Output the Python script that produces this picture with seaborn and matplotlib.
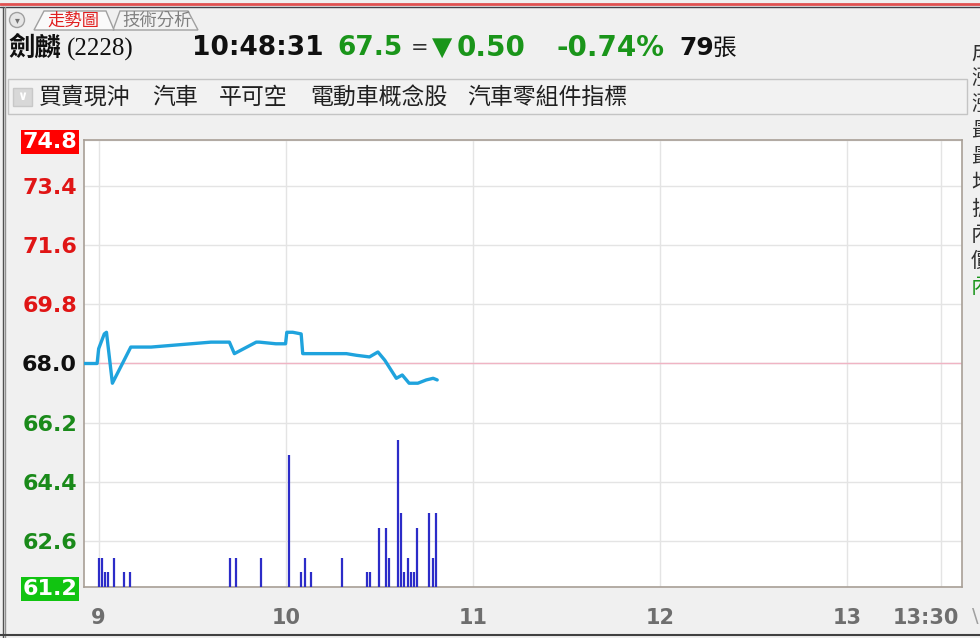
import numpy as np
import pandas as pd
import matplotlib
matplotlib.use('Agg')
import matplotlib.pyplot as plt
import matplotlib.transforms as mtransforms
import seaborn as sns
from matplotlib.patches import Rectangle, Polygon, Circle

# price line (minutes after 09:00)
price_time = [-5, -0.5, 0, 1.8, 2.5, 4.4, 10.3, 16.8, 23.2, 29.6, 36, 41.9, 43.5, 50.5,
              51.5, 56.8, 59.9, 60.3, 62.2, 64.9, 65.4, 72.4, 79.4, 82.6, 86.8, 89.5,
              91.7, 95.4, 97.3, 99.5, 102.3, 105, 107.2, 108.5]
price = [68.0, 68.0, 68.45, 68.9, 68.95, 67.4, 68.5, 68.5, 68.55, 68.6, 68.65, 68.65, 68.3,
         68.65, 68.65, 68.6, 68.6, 68.95, 68.95, 68.9, 68.3, 68.3, 68.3, 68.25, 68.2, 68.35,
         68.1, 67.55, 67.65, 67.4, 67.4, 67.5, 67.55, 67.5]

# volume (lots)
vol_time = [0, 1, 2, 3, 5, 8, 10, 42, 44, 52, 61, 65, 66, 68, 78, 86, 87, 90, 92, 93,
            96, 97, 98, 99, 100, 101, 102, 106, 107, 108]
vol_lots = [2, 2, 1, 1, 2, 1, 1, 2, 2, 2, 9, 1, 2, 1, 2, 1, 1, 4, 4, 2,
            10, 5, 1, 2, 1, 1, 4, 5, 2, 5]

y_ticks = [61.2, 62.6, 64.4, 66.2, 68.0, 69.8, 71.6, 73.4, 74.8]
y_labels = ['61.2', '62.6', '64.4', '66.2', '68.0', '69.8', '71.6', '73.4', '74.8']
x_ticks = [0, 60, 120, 180, 240, 270]
x_labels = ['9', '10', '11', '12', '13', '13:30']

tag_items = ['買賣現沖', '汽車', '平可空', '電動車概念股', '汽車零組件指標']
side_items = ['成', '漲', '漲', '最', '最', '均', '振', '內', '價', '內']

sns.set_style('white')
plt.rcParams['font.family'] = ['DejaVu Sans', 'Noto Sans CJK TC']
CJK = ['Noto Sans CJK TC', 'DejaVu Sans']

W, H = 980, 638
fig = plt.figure(figsize=(9.8, 6.38), dpi=100, facecolor='#f0f0f0')

# background layer in pixel coordinates
bg = fig.add_axes([0, 0, 1, 1])
bg.set_xlim(0, W)
bg.set_ylim(H, 0)
bg.axis('off')

bg.plot([0, W], [3.5, 3.5], color='#e05050', lw=2)
bg.plot([0, W], [7, 7], color='#404048', lw=1)
bg.plot([2.5, 2.5], [7, H], color='#505050', lw=1)
bg.plot([5, 5], [7, H], color='#909090', lw=1)
bg.plot([0, W], [635, 635], color='#404040', lw=1.5)

# tabs
bg.add_patch(Circle((17, 20), 7.5, facecolor='#e6e6e6', edgecolor='#a0a0a0', lw=1))
bg.text(17, 20.5, '▾', ha='center', va='center', fontsize=7, color='#707070')
bg.add_patch(Polygon([(113, 30), (120, 11), (188, 11), (198, 30)], closed=True,
                     facecolor='#f2f2f2', edgecolor='#a0a0a0', lw=1))
bg.add_patch(Polygon([(34, 30), (44, 11), (106, 11), (114, 30)], closed=True,
                     facecolor='#fafafa', edgecolor='#a0a0a0', lw=1))
bg.text(47, 21, '走勢圖', fontsize=12.5, color='#e02020', va='center', family=CJK)
bg.text(122, 21, '技術分析', fontsize=12.5, color='#808080', va='center', family=CJK)

# quote line
bg.text(8, 48, '劍麟', fontsize=19, fontweight='bold', va='center', family=CJK, color='#101010')
bg.text(67, 49, '(2228)', fontsize=18, va='center', family='Liberation Serif', color='#101010')
bg.text(192, 48, '10:48:31', fontsize=19, fontweight='bold', va='center', color='#101010')
bg.text(337, 48, '67.5', fontsize=19, fontweight='bold', va='center', color='#1a951a')
bg.text(411, 48, '=', fontsize=15, va='center', color='#303030')
bg.text(432, 48, '▼', fontsize=19, fontweight='bold', va='center', color='#1a951a')
bg.text(457, 48, '0.50', fontsize=20, fontweight='bold', va='center', color='#1a951a')
bg.text(664, 48, '-0.74%', fontsize=20, fontweight='bold', va='center', ha='right',
        color='#1a951a')
bg.text(679, 48, '79', fontsize=18, fontweight='bold', va='center', color='#101010')
bg.text(713, 48, '張', fontsize=17, va='center', family=CJK, color='#101010')

# tag bar
bg.add_patch(Rectangle((8, 79), 959, 35, facecolor='#f2f2f2', edgecolor='#c4c4c4', lw=1))
bg.add_patch(Rectangle((13, 88), 19, 18, facecolor='#d8d8d8', edgecolor='#c8c8c8', lw=1))
bg.text(22.5, 97, '∨', fontsize=9, ha='center', va='center', color='#ffffff', fontweight='bold')
tag_x = [39, 152, 219, 310, 467]
for tx, item in zip(tag_x, tag_items):
    bg.text(tx, 97, item, fontsize=16.5, va='center', family=CJK, color='#202020')

# clipped side panel on the right
for i, item in enumerate(side_items):
    c = '#1a951a' if i == len(side_items) - 1 else '#303030'
    bg.text(971, 53 + 26 * i, item, fontsize=15, va='center', family=CJK, color=c)
bg.text(972, 617, '\\', fontsize=14, va='center', color='#a0a0a0')

# main chart
ax = fig.add_axes([84 / W, (H - 587) / H, (962 - 84) / W, (587 - 140) / H])
ax.set_facecolor('white')
ax.set_xlim(-4.7, 276.7)
ax.set_ylim(61.2, 74.8)
ax.set_yticks(y_ticks)
ax.set_yticklabels(y_labels)
ax.set_xticks(x_ticks)
ax.set_xticklabels(x_labels)
ax.grid(True, color='#e4e4e4', lw=1)
ax.axhline(68.0, color='#f0b4c4', lw=1, zorder=1.5)

sns.lineplot(x=price_time, y=price, ax=ax, color='#1fa3dd', lw=2.4,
             estimator=None, sort=False, zorder=3)

ax.tick_params(axis='y', length=0, pad=5, labelsize=16)
ax.tick_params(axis='x', length=10, width=1, color='#555555', pad=5,
               labelsize=15, labelcolor='#6e6e6e')
for lbl in ax.get_xticklabels():
    lbl.set_fontweight('bold')
last = ax.get_xticklabels()[-1]
last.set_horizontalalignment('right')
last.set_transform(last.get_transform() +
                   mtransforms.ScaledTranslation(0.18, 0, fig.dpi_scale_trans))

label_colors = ['white', '#1a8a1a', '#1a8a1a', '#1a8a1a', '#101010',
                '#e01515', '#e01515', '#e01515', 'white']
for i, lbl in enumerate(ax.get_yticklabels()):
    lbl.set_fontweight('bold')
    lbl.set_color(label_colors[i])
lbls = ax.get_yticklabels()
lbls[0].set_bbox(dict(facecolor='#11c411', edgecolor='none', boxstyle='square,pad=0.08'))
lbls[-1].set_bbox(dict(facecolor='#ff0000', edgecolor='none', boxstyle='square,pad=0.08'))

for s in ax.spines.values():
    s.set_color('#a89f96')
    s.set_linewidth(1.2)

# volume bars on their own scale
ax2 = ax.twinx()
ax2.vlines(vol_time, 0, vol_lots, color='#2c2cc8', lw=1.6)
ax2.set_ylim(0, 30.4)
ax2.set_yticks([])
for s in ax2.spines.values():
    s.set_visible(False)

fig.savefig('out.png', dpi=100, facecolor=fig.get_facecolor())
